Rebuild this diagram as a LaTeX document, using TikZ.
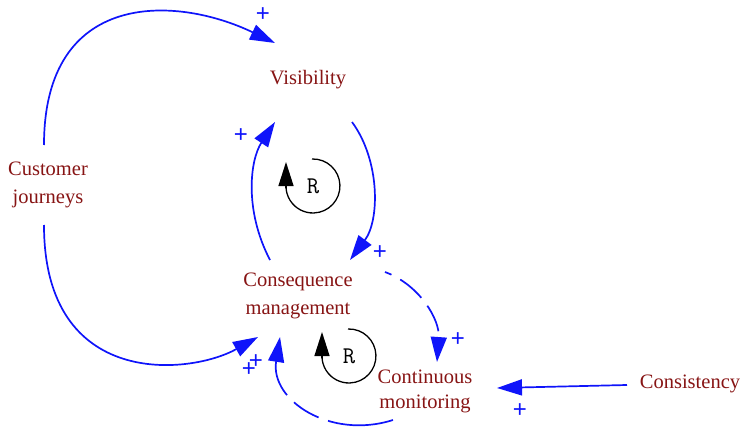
\documentclass[tikz,border=0pt]{standalone}
\usepackage{fontspec}
\setmainfont{Liberation Serif}
\newfontfamily\plusfont{Liberation Sans}
\usetikzlibrary{arrows.meta,calc}
\definecolor{varred}{RGB}{135,20,20}
\definecolor{linkblue}{RGB}{15,20,250}
\begin{document}
\begin{tikzpicture}[x=1pt,y=-1pt,
  var/.style={text=varred,font=\fontsize{20.5}{28}\selectfont,align=center,inner sep=0pt},
  link/.style={draw=linkblue,line width=1.7pt,-{Triangle[length=25pt,width=16pt]}},
  pol/.style={text=linkblue,font=\plusfont\fontsize{24}{24}\selectfont,inner sep=0pt},
  loopc/.style={draw=black,line width=1.3pt},
  looptip/.style={draw=black,line width=1.3pt,-{Triangle[length=24pt,width=15pt]}},
  looplabel/.style={font=\ttfamily\fontsize{24}{24}\selectfont,inner sep=0pt},
  ]
\useasboundingbox (0,0) rectangle (740,428);

% variables
\node[var] (vis) at (308,80) {Visibility};
\node[var] (cj)  at (48,185) {Customer\\journeys};
\node[var] (cm)  at (298,296) {Consequence\\management};
\node[var,font=\fontsize{20.5}{25}\selectfont] (mon) at (425,391) {Continuous\\monitoring};
\node[var] (con) at (690,384) {Consistency};

% links
\draw[link] ($(cj)+(-4,-40)$) .. controls (44,-10) and (175,-5) .. ($(vis)+(-33,-37)$);
\draw[link] ($(cj)+(-4,40)$) .. controls (44,390) and (190,375) .. ($(cm)+(-40,41)$);
\draw[link] ($(cm)+(-28,-36)$) .. controls (244,210) and (250,160) .. ($(vis)+(-33,42)$);
\draw[link] ($(vis)+(44,42)$) .. controls (380,160) and (380,220) .. ($(cm)+(52,-36)$);
\draw[link,dash pattern=on 28pt off 10pt,dash phase=21pt] ($(cm)+(87,-24)$) .. controls (420,285) and (440,320) .. ($(mon)+(12,-29)$);
\draw[link,dash pattern=on 66pt off 10pt on 29pt off 10pt on 200pt off 10pt] ($(mon)+(-32,29)$) .. controls (330,440) and (270,400) .. ($(cm)+(-18,41)$);
\draw[link] ($(con)+(-63,1)$) -- ($(mon)+(72,-3)$);

% polarities
\node[pol] (p1) at (263,15) {+};
\node[pol] (p2) at (241,136) {+};
\node[pol] (p3) at (380,253) {+};
\node[pol] (p4) at (458,340) {+};
\node[pol] (p5) at (249,370) {+};
\node[pol] (p6) at (256,362) {+};
\node[pol] (p7) at (520,411) {+};

% loop markers
\node[looplabel] (r1) at (313,186) {R};
\draw[loopc] ($(r1)+(-1,-27)$) arc[start angle=-92, end angle=180, radius=27];
\draw[looptip] ($(r1)+(-27,2)$) -- ($(r1)+(-27,-24)$);

\node[looplabel] (r2) at (349,356) {R};
\draw[loopc] ($(r2)+(-1,-27)$) arc[start angle=-92, end angle=180, radius=27];
\draw[looptip] ($(r2)+(-27,2)$) -- ($(r2)+(-27,-24)$);
\end{tikzpicture}
\end{document}
